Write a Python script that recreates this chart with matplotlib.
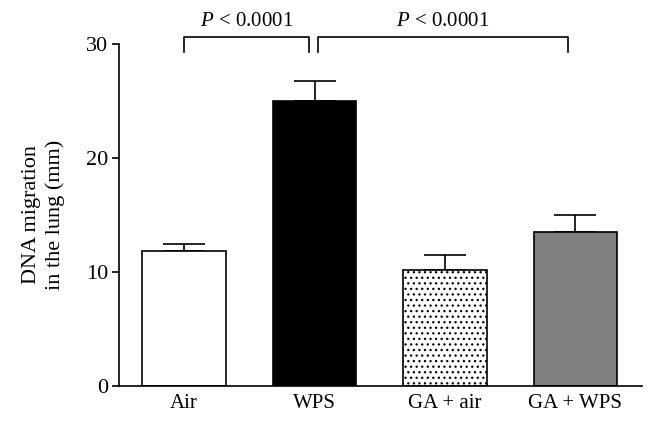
import matplotlib
matplotlib.use("Agg")
import matplotlib.pyplot as plt
import numpy as np

plt.rcParams['font.family'] = ['Liberation Serif', 'DejaVu Serif']
plt.rcParams['mathtext.fontset'] = 'custom'
plt.rcParams['mathtext.rm'] = 'Liberation Serif'
plt.rcParams['mathtext.it'] = 'Liberation Serif:italic'
plt.rcParams['hatch.linewidth'] = 0.9

groups = ['Air', 'WPS', 'GA + air', 'GA + WPS']
means = [11.8, 25.0, 10.2, 13.45]
sems = [0.65, 1.7, 1.3, 1.5]
colors = ['white', 'black', 'white', '#808080']
hatches = ['', '', '...', '']
p_label = r'$P$ < 0.0001'
brackets = [(0.0, 0.96), (1.03, 2.94)]

fig = plt.figure(figsize=(6.56, 4.23), dpi=100)
ax = fig.add_axes([0.1814, 0.0875, 0.797, 0.8095])

x = np.arange(len(groups))
for i in range(len(groups)):
    ax.bar(x[i], means[i], width=0.64, color=colors[i], edgecolor='black',
           linewidth=1.2, hatch=hatches[i], zorder=2)
    ax.errorbar(x[i], means[i], yerr=[[0], [sems[i]]], fmt='none',
                ecolor='black', elinewidth=1.2, capsize=15, capthick=1.2, zorder=1)

for x0, x1 in brackets:
    ax.plot([x0, x0, x1, x1], [29.3, 30.6, 30.6, 29.3], color='black',
            lw=1.2, clip_on=False)
    ax.text((x0 + x1) / 2, 31.5, p_label, ha='center', va='baseline', fontsize=15)

ax.set_xlim(-0.5, 3.51)
ax.set_ylim(0, 30)
ax.set_yticks([0, 10, 20, 30])
ax.set_xticks(x)
ax.set_xticklabels(groups)
ax.tick_params(axis='y', length=5, width=1.2, pad=3, labelsize=16)
ax.tick_params(axis='x', length=0, pad=6, labelsize=15)
for s in ['top', 'right']:
    ax.spines[s].set_visible(False)
for s in ['left', 'bottom']:
    ax.spines[s].set_linewidth(1.2)

ax.set_ylabel('DNA migration\nin the lung (mm)', fontsize=16, linespacing=1.3)
ax.yaxis.set_label_coords(-0.103, 0.5)

fig.savefig('out.png', dpi=100)
